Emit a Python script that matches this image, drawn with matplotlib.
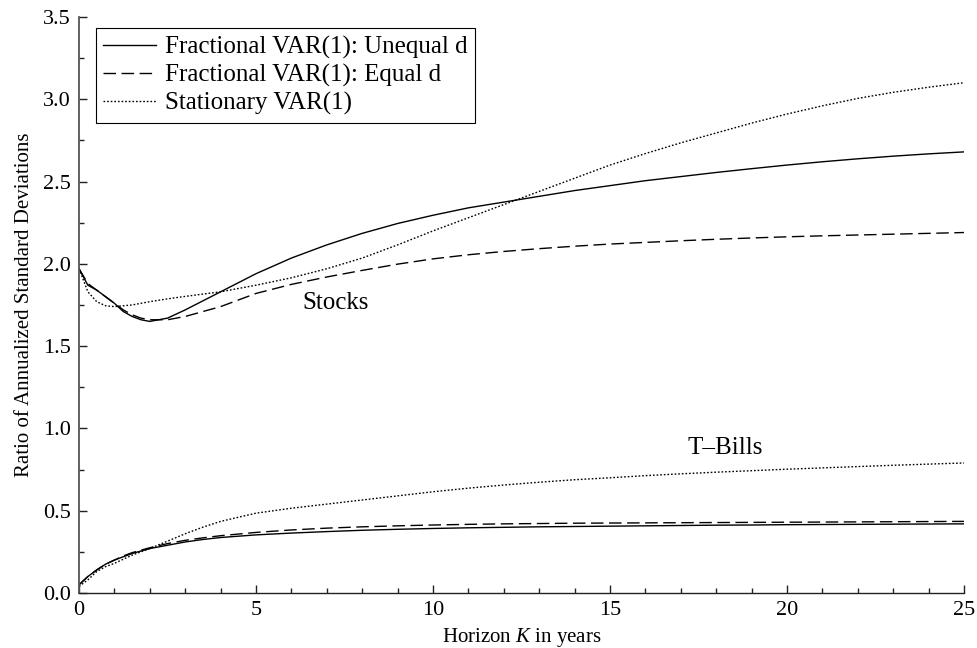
import matplotlib
matplotlib.use("Agg")
import matplotlib.pyplot as plt
from matplotlib.ticker import MultipleLocator, FormatStrFormatter

plt.rcParams["font.family"] = ["Liberation Serif", "DejaVu Serif"]
plt.rcParams["mathtext.fontset"] = "custom"
plt.rcParams["mathtext.it"] = "Liberation Serif:italic"
plt.rcParams["mathtext.rm"] = "Liberation Serif"

# Horizon grid (years)
horizon = [0, 0.25, 0.5, 0.75, 1, 1.25, 1.5, 1.75, 2, 2.5, 3, 3.5, 4,
           5, 6, 7, 8, 9, 10, 11, 12, 13, 14, 15, 16, 17, 18, 19, 20,
           21, 22, 23, 24, 25]

# Stocks
stocks_unequal = [1.97, 1.87, 1.84, 1.80, 1.76, 1.71, 1.68, 1.66, 1.65, 1.67, 1.72, 1.775, 1.83,
                  1.94, 2.035, 2.115, 2.185, 2.245, 2.295, 2.34, 2.375, 2.41, 2.445, 2.475, 2.505,
                  2.53, 2.555, 2.578, 2.60, 2.62, 2.638, 2.654, 2.668, 2.68]
stocks_equal = [1.97, 1.88, 1.84, 1.80, 1.76, 1.72, 1.69, 1.67, 1.66, 1.66, 1.68, 1.71, 1.74,
                1.82, 1.875, 1.92, 1.96, 1.998, 2.03, 2.055, 2.075, 2.092, 2.107, 2.12, 2.13, 2.14,
                2.149, 2.157, 2.164, 2.17, 2.175, 2.18, 2.185, 2.19]
stocks_stationary = [1.97, 1.83, 1.77, 1.745, 1.74, 1.745, 1.75, 1.76, 1.77, 1.787, 1.802, 1.816, 1.83,
                     1.87, 1.915, 1.97, 2.035, 2.115, 2.2, 2.28, 2.36, 2.44, 2.52, 2.60, 2.67, 2.735,
                     2.795, 2.855, 2.91, 2.96, 3.005, 3.042, 3.073, 3.10]

# T-Bills
tbills_unequal = [0.05, 0.10, 0.14, 0.175, 0.20, 0.22, 0.24, 0.255, 0.27, 0.29, 0.31, 0.325, 0.337,
                  0.353, 0.364, 0.373, 0.381, 0.387, 0.392, 0.396, 0.399, 0.402, 0.404, 0.406, 0.408,
                  0.41, 0.412, 0.413, 0.415, 0.416, 0.417, 0.418, 0.419, 0.42]
tbills_equal = [0.05, 0.10, 0.14, 0.175, 0.20, 0.225, 0.245, 0.26, 0.275, 0.30, 0.32, 0.335, 0.348,
                0.368, 0.383, 0.394, 0.402, 0.408, 0.413, 0.417, 0.42, 0.422, 0.424, 0.425, 0.426,
                0.427, 0.428, 0.429, 0.43, 0.431, 0.432, 0.433, 0.434, 0.435]
tbills_stationary = [0.04, 0.08, 0.13, 0.16, 0.18, 0.205, 0.23, 0.25, 0.27, 0.315, 0.36, 0.40, 0.435,
                     0.485, 0.515, 0.54, 0.565, 0.59, 0.615, 0.637, 0.656, 0.673, 0.688, 0.70, 0.713,
                     0.724, 0.734, 0.743, 0.752, 0.76, 0.768, 0.776, 0.783, 0.79]

legend_labels = ["Fractional VAR(1): Unequal d", "Fractional VAR(1): Equal d", "Stationary VAR(1)"]

fig = plt.figure(figsize=(9.78, 6.48), dpi=100)
ax = fig.add_axes([0.0808, 0.0849, 0.905, 0.889])

lw = 1.0
solid = dict(color="black", lw=lw, linestyle="-")
dashed = dict(color="black", lw=lw, linestyle=(0, (9, 4)))
dotted = dict(color="black", lw=lw, linestyle=(0, (1.2, 1.4)))

ax.plot(horizon, stocks_unequal, label=legend_labels[0], **solid)
ax.plot(horizon, stocks_equal, label=legend_labels[1], **dashed)
ax.plot(horizon, stocks_stationary, label=legend_labels[2], **dotted)
ax.plot(horizon, tbills_unequal, **solid)
ax.plot(horizon, tbills_equal, **dashed)
ax.plot(horizon, tbills_stationary, **dotted)

ax.text(6.3, 1.76, "Stocks", fontsize=18, va="center", ha="left")
ax.text(17.2, 0.88, "T\u2013Bills", fontsize=18, va="center", ha="left")

ax.set_xlim(0, 25)
ax.set_ylim(0, 3.5)
ax.xaxis.set_major_locator(MultipleLocator(5))
ax.xaxis.set_minor_locator(MultipleLocator(1))
ax.yaxis.set_major_locator(MultipleLocator(0.5))
ax.yaxis.set_minor_locator(MultipleLocator(0.25))
ax.xaxis.set_major_formatter(FormatStrFormatter("%d"))
ax.yaxis.set_major_formatter(FormatStrFormatter("%.1f"))

for side in ("top", "right"):
    ax.spines[side].set_visible(False)
ax.spines["left"].set_color("#555555")
ax.spines["left"].set_linewidth(1.3)
ax.spines["bottom"].set_color("#222222")
ax.spines["bottom"].set_linewidth(1.0)

ax.tick_params(which="both", direction="in", labelsize=16, pad=6, colors="#222222",
               labelcolor="black")
ax.tick_params(which="major", length=6, width=1.0)
ax.tick_params(which="minor", length=3.5, width=1.0)

ax.set_xlabel(r"Horizon $K$ in years", fontsize=15, labelpad=4)
ax.set_ylabel("Ratio of Annualized Standard Deviations", fontsize=15, labelpad=6)

leg = ax.legend(loc="upper left", bbox_to_anchor=(0.019, 0.98), fontsize=18,
                frameon=True, fancybox=False, framealpha=1, edgecolor="black",
                handlelength=2.1, handletextpad=0.35, labelspacing=0.2,
                borderpad=0.3, borderaxespad=0.0)
leg.get_frame().set_linewidth(0.8)

fig.savefig("out.png", dpi=100)
